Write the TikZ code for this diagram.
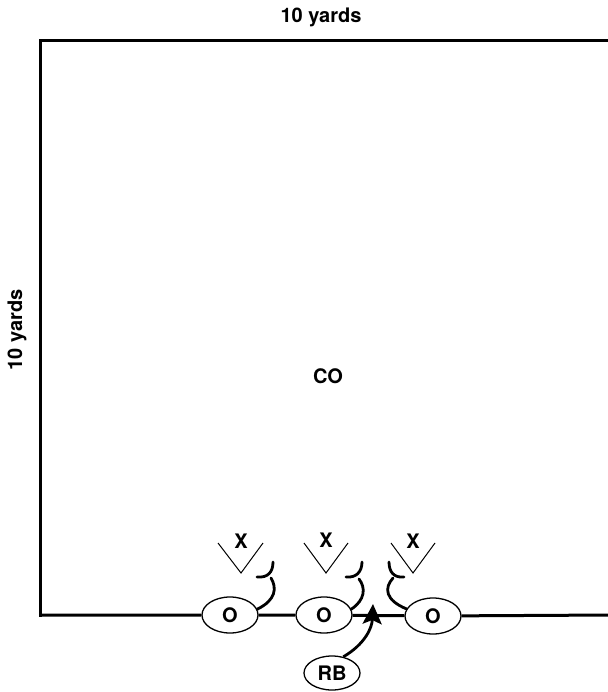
\documentclass[tikz,border=0pt]{standalone}
\usepackage{fontspec}
\setmainfont{TeX Gyre Heros}
\usetikzlibrary{shapes.geometric,arrows.meta}
\begin{document}
\begin{tikzpicture}[x=1pt,y=-1pt,
  lbl/.style={font=\fontsize{20}{22}\selectfont\bfseries, inner sep=0pt},
  player/.style={draw, ellipse, line width=1.3pt, fill=white,
    minimum width=56pt, minimum height=36pt, inner sep=0pt,
    font=\fontsize{20}{22}\selectfont\bfseries},
  field/.style={line width=3pt},
  block/.style={line width=2.8pt, line cap=round},
  rush/.style={line width=1pt},
  run/.style={line width=2.8pt, -{Stealth[length=20pt,width=19pt,inset=4pt]}}]
\useasboundingbox (0,0) rectangle (607,692);

% field outline
\coordinate (tl) at (40,41);
\coordinate (tr) at (612,41);
\coordinate (bl) at (40,615);
\coordinate (br) at (612,615);

\node[lbl] (toplbl) at (321,17) {10 yards};
\node[lbl, rotate=90] (sidelbl) at (17,330) {10 yards};
\node[lbl] (co) at (328,376) {CO};

% linemen and running back
\node[player] (o1) at (230,615) {O};
\node[player] (o2) at (324,615) {O};
\node[player] (o3) at (433,616) {O};
\node[player, minimum height=34pt] (rb) at (332,673) {RB};

\draw[field, line cap=rect] (bl) -- (tl) -- (tr);
\draw[field] (bl) -- (o1) -- (o2) -- (o3) -- (br);

% defenders
\node[lbl] (x1) at (241,541) {X};
\node[lbl] (x2) at (326,540) {X};
\node[lbl] (x3) at (413,541) {X};

\coordinate (v1a) at (218,543); \coordinate (v1b) at (241,573); \coordinate (v1c) at (263,543);
\coordinate (v2a) at (304,543); \coordinate (v2b) at (326,573); \coordinate (v2c) at (348,543);
\coordinate (v3a) at (391,543); \coordinate (v3b) at (413,573); \coordinate (v3c) at (435,543);
\draw[rush] (v1a) -- (v1b) -- (v1c);
\draw[rush] (v2a) -- (v2b) -- (v2c);
\draw[rush] (v3a) -- (v3b) -- (v3c);

% blocking assignments
\coordinate (b1) at (271,578);
\draw[block] (o1.12) .. controls (276,600) and (277,588) .. (b1);
\draw[block] (257,577) .. controls (268,578) and (273,572) .. (273,562);

\coordinate (b2) at (359,579);
\draw[block] (o2.12) .. controls (365,600) and (366,588) .. (b2);
\draw[block] (346,577) .. controls (356,578) and (362,572) .. (362,562);

\coordinate (b3) at (393,578);
\draw[block] (o3.165) .. controls (385,600) and (384,588) .. (b3);
\draw[block] (404,577) .. controls (394,578) and (389,572) .. (389,562);

% running back path
\coordinate (tip) at (373,604);
\draw[run] (rb.55) .. controls (365,644) and (372,628) .. (tip);
\end{tikzpicture}
\end{document}
